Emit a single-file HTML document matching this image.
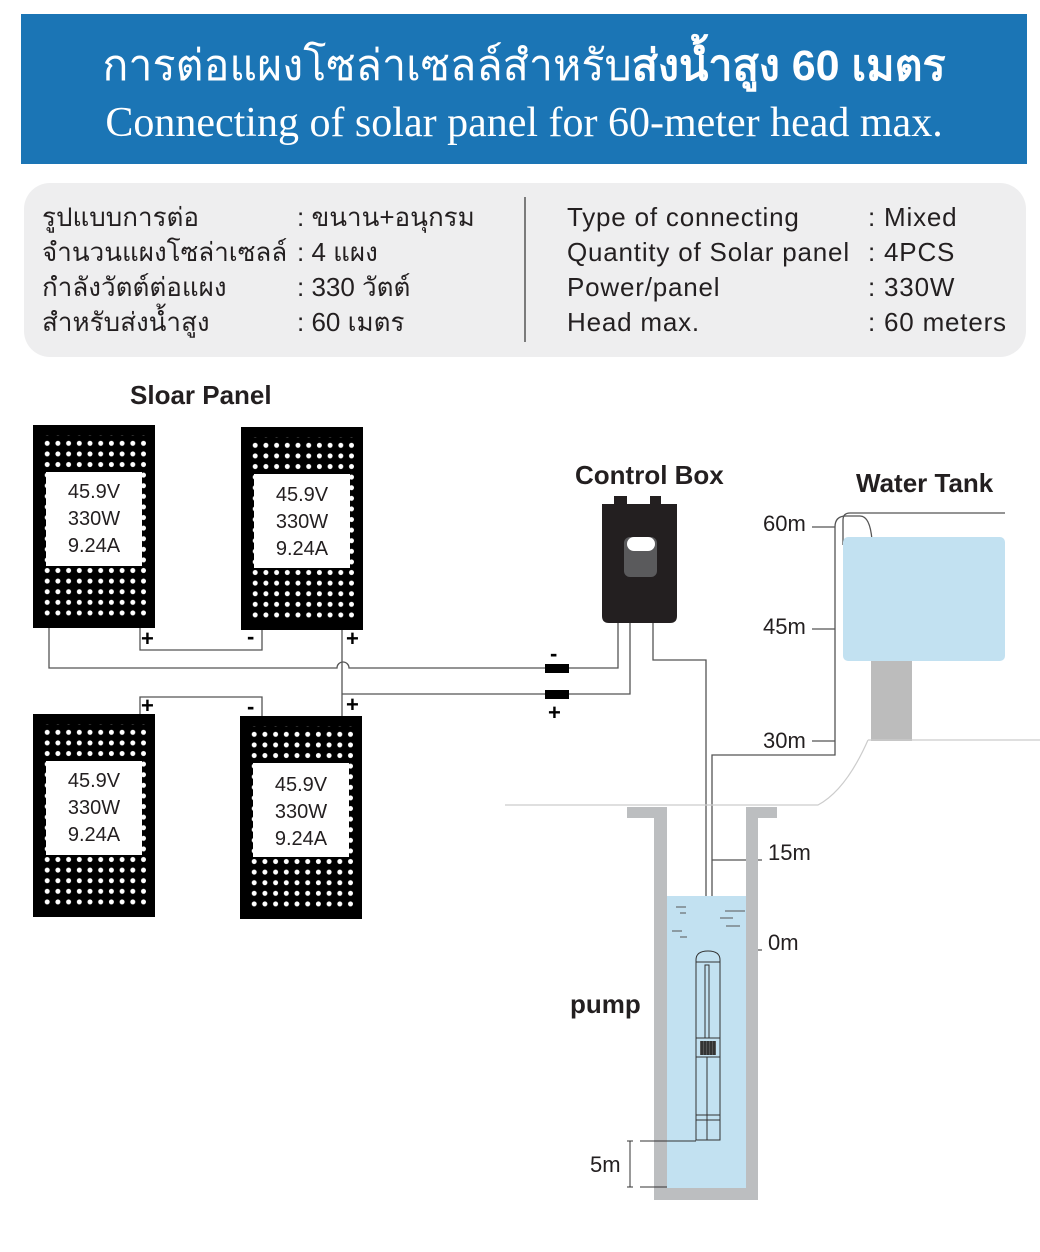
<!DOCTYPE html>
<html><head><meta charset="utf-8"><style>
html,body{margin:0;padding:0;background:#fff;}
svg{display:block;}
text{font-family:"Liberation Sans","DejaVu Sans",sans-serif;}
</style></head><body>
<svg width="1040" height="1252" viewBox="0 0 1040 1252" xmlns="http://www.w3.org/2000/svg">
<defs>
<pattern id="dots" x="41" y="437" width="10.7" height="10.6" patternUnits="userSpaceOnUse">
<circle cx="5.3" cy="5.3" r="2.5" fill="#fff"/>
</pattern>
<g id="panel">
<rect x="0" y="0" width="122" height="203" fill="#000"/>
<rect x="8" y="10" width="106" height="183" fill="url(#dots)"/>
<rect x="13" y="47" width="96" height="94" fill="#fff"/>
</g>
</defs>
<!-- header -->
<rect x="21" y="14" width="1006" height="150" fill="#1b75b5"/>
<text x="524" y="80" text-anchor="middle" font-size="43" fill="#fff">การต่อแผงโซล่าเซลล์สำหรับ<tspan font-weight="bold">ส่งน้ำสูง 60 เมตร</tspan></text>
<text x="524" y="136" text-anchor="middle" font-size="42" fill="#fff" style="font-family:'Liberation Serif',serif">Connecting of solar panel for 60-meter head max.</text>
<!-- info -->
<rect x="24" y="183" width="1002" height="174" rx="26" fill="#eeeeef"/>
<line x1="525" y1="197" x2="525" y2="342" stroke="#555" stroke-width="1.5"/>
<g font-size="26" fill="#231f20">
<text x="42" y="226">รูปแบบการต่อ</text><text x="297" y="226">: ขนาน+อนุกรม</text>
<text x="42" y="261">จำนวนแผงโซล่าเซลล์</text><text x="297" y="261">: 4 แผง</text>
<text x="42" y="296">กำลังวัตต์ต่อแผง</text><text x="297" y="296">: 330 วัตต์</text>
<text x="42" y="331">สำหรับส่งน้ำสูง</text><text x="297" y="331">: 60 เมตร</text>
</g>
<g font-size="26" fill="#231f20" letter-spacing="0.8">
<text x="567" y="226">Type of connecting</text><text x="868" y="226">: Mixed</text>
<text x="567" y="261">Quantity of Solar panel</text><text x="868" y="261">: 4PCS</text>
<text x="567" y="296">Power/panel</text><text x="868" y="296">: 330W</text>
<text x="567" y="331">Head max.</text><text x="868" y="331">: 60 meters</text>
</g>
<!-- titles -->
<g font-size="26" font-weight="bold" fill="#231f20">
<text x="130" y="404">Sloar Panel</text>
<text x="575" y="484">Control Box</text>
<text x="856" y="492">Water Tank</text>
<text x="570" y="1013">pump</text>
</g>
<!-- wires -->
<g stroke="#555" stroke-width="1.3" fill="none">
<path d="M49 628 V668 H337 A6 6 0 0 1 349 668 H618 V620"/>
<path d="M140 628 V650 H262 V630"/>
<path d="M342 630 V716"/>
<path d="M342 694 H630 V620"/>
<path d="M140 714 V697 H262 V716"/>
<path d="M653 620 V660 H706 V950"/>
<path d="M712 950 V755 H835 V527 Q835 516 846 516 H860 Q870 516 872 540"/>
<path d="M843 545 V520 Q843 513 850 513 H1005"/>
<path d="M812 527 H835 M812 629 H835 M812 741 H835"/>
<path d="M712 860 H762 M712 950 H762"/>
</g>
<!-- panels -->
<use href="#panel" x="33" y="425"/>
<use href="#panel" x="241" y="427"/>
<use href="#panel" x="33" y="714"/>
<use href="#panel" x="240" y="716"/>
<g font-size="20" fill="#231f20" text-anchor="middle">
<text x="94" y="498">45.9V</text><text x="94" y="525">330W</text><text x="94" y="552">9.24A</text>
<text x="302" y="501">45.9V</text><text x="302" y="528">330W</text><text x="302" y="555">9.24A</text>
<text x="94" y="787">45.9V</text><text x="94" y="814">330W</text><text x="94" y="841">9.24A</text>
<text x="301" y="791">45.9V</text><text x="301" y="818">330W</text><text x="301" y="845">9.24A</text>
</g>
<g font-size="22" font-weight="bold" fill="#000">
<text x="141" y="646">+</text><text x="247" y="644">-</text><text x="346" y="646">+</text>
<text x="141" y="713">+</text><text x="247" y="714">-</text><text x="346" y="712">+</text>
<text x="550" y="661">-</text><text x="548" y="720">+</text>
</g>
<rect x="545" y="664" width="24" height="9" fill="#000"/>
<rect x="545" y="690" width="24" height="9" fill="#000"/>
<!-- control box -->
<path d="M602 504 H614 V496 H627 V504 H650 V496 H661 V504 H677 V616 Q677 623 670 623 H609 Q602 623 602 616 Z" fill="#231f20"/>
<rect x="624" y="537" width="33" height="40" rx="6" fill="#5a5a5c"/>
<rect x="627" y="537" width="28" height="14" rx="7" fill="#fff"/>
<!-- tank -->
<rect x="843" y="537" width="162" height="124" rx="5" fill="#c2e1f1"/>
<rect x="871" y="661" width="41" height="80" fill="#bcbcbc"/>
<path d="M868 740 H1040 M505 805 H818 Q846 790 868 740" stroke="#ccc" stroke-width="1.2" fill="none"/>
<!-- well -->
<rect x="667" y="896" width="79" height="292" fill="#c2e1f1"/>
<path d="M627 807 H667 V1188 H746 V807 H777 V818 H758 V1200 H654 V818 H627 Z" fill="#bcbec0"/>
<g stroke="#555" stroke-width="1" fill="none">
<path d="M676 907 H686 M680 913 H686 M672 931 H682 M680 937 H687 M725 911 H745 M720 918 H733 M726 926 H740"/>
</g>
<text x="763" y="531" font-size="22" fill="#231f20">60m</text>
<text x="763" y="634" font-size="22" fill="#231f20">45m</text>
<text x="763" y="748" font-size="22" fill="#231f20">30m</text>
<text x="768" y="860" font-size="22" fill="#231f20">15m</text>
<text x="768" y="950" font-size="22" fill="#231f20">0m</text>
<text x="590" y="1172" font-size="22" fill="#231f20">5m</text>
<!-- pump -->
<g stroke="#333" stroke-width="1" fill="#c2e1f1">
<path d="M696 960 Q696 951 708 951 Q720 951 720 960 V1140 H696 Z"/>
<line x1="696" y1="962" x2="720" y2="962"/>
<rect x="705" y="965" width="4" height="73"/>
<line x1="696" y1="1038" x2="720" y2="1038"/>
<line x1="696" y1="1057" x2="720" y2="1057"/>
<line x1="696" y1="1115" x2="720" y2="1115"/>
<line x1="696" y1="1120" x2="720" y2="1120"/>
<line x1="707" y1="1057" x2="707" y2="1140"/>
<path d="M640 1141 H696 M640 1187 H667 M630 1141 V1187 M627 1141 H633 M627 1187 H633"/>
</g>
<rect x="700" y="1041" width="16" height="14" fill="#555"/>
<path d="M702 1041 V1055 M705 1041 V1055 M708 1041 V1055 M711 1041 V1055 M714 1041 V1055" stroke="#111" stroke-width="1"/>
</svg>
</body></html>
